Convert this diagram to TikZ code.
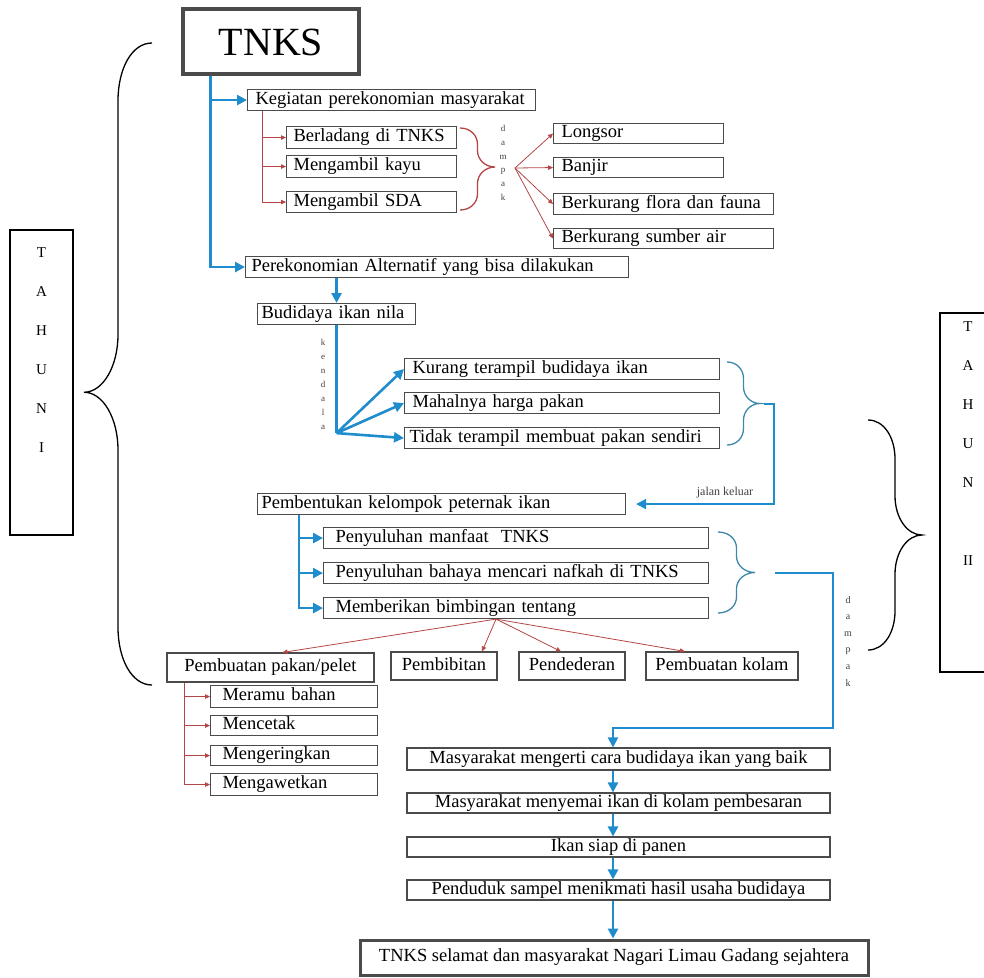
\documentclass[tikz,border=0pt]{standalone}
\usepackage{fontspec}
\setmainfont{Liberation Serif}
\usepackage{tikz}
\usetikzlibrary{arrows.meta,calc}

\definecolor{arrblue}{RGB}{30,140,205}
\definecolor{brcblue}{RGB}{60,135,170}
\definecolor{lnred}{RGB}{180,70,70}
\definecolor{boxgray}{RGB}{75,75,75}

\newcommand{\txt}{\fontsize{18.5}{21}\selectfont}
% curly brace in unit square: #1 = tip position, #2 = curl size
\newcommand{\brc}[2]{(0,0) .. controls (0.3,0) and (0.5,{0.45*#2}) .. (0.5,#2) -- (0.5,{#1-#2}) .. controls (0.5,{#1-0.45*#2}) and (0.72,#1) .. (1,#1) .. controls (0.72,#1) and (0.5,{#1+0.45*#2}) .. (0.5,{#1+#2}) -- (0.5,{1-#2}) .. controls (0.5,{1-0.45*#2}) and (0.3,1) .. (0,1)}

\begin{document}
\begin{tikzpicture}[x=1pt, y=-1pt,
    box/.style={draw=boxgray, line width=1.1pt, inner ysep=0pt, minimum height=21pt,
                text height=13pt, text depth=4.3pt, font=\txt},
    lbox/.style={box, anchor=north west, align=left, inner xsep=8pt},
    cbox/.style={box, align=center, inner xsep=2pt},
    barr/.style={arrblue, line width=2.6pt, -{Triangle[length=10pt,width=10pt]}},
    bline/.style={arrblue, line width=2.6pt},
    rarr/.style={lnred, line width=0.8pt, -{Triangle[length=5pt,width=4.5pt]}},
    curlyln/.style={line width=1.3pt},
    vlet/.style={anchor=north, align=center, inner sep=0pt, text=black!75},
    tletter/.style={anchor=north, align=center, inner sep=0pt, font=\fontsize{15}{39}\selectfont}]
                \useasboundingbox (0,0) rectangle (984,977);
                % top
                \node[box, line width=3.5pt, minimum width=176pt, minimum height=65pt, text height=28pt, text depth=0pt,
                      font=\fontsize{40}{42}\selectfont] (tnks) at (271,41.5) {TNKS};
                \node[lbox, text width=272pt] (keg) at (247,89) {Kegiatan perekonomian masyarakat};
                \node[lbox, inner xsep=7pt, text width=156pt, minimum height=22pt] (ladang) at (286,126) {Berladang di TNKS};
                \node[lbox, inner xsep=7pt, text width=156pt, minimum height=22pt] (kayu) at (286,155) {Mengambil kayu};
                \node[lbox, inner xsep=7pt, text width=156pt] (sda) at (286,191) {Mengambil SDA};
                \node[lbox, text width=154pt, minimum height=20pt] (longsor) at (553,123) {Longsor};
                \node[lbox, text width=154pt, minimum height=20pt] (banjir) at (553,157) {Banjir};
                \node[lbox, text width=204pt] (flora) at (553,193) {Berkurang flora dan fauna};
                \node[lbox, text width=204pt, minimum height=20pt] (sumber) at (553,228) {Berkurang sumber air};
                \node[lbox, inner xsep=6pt, text width=371pt] (alt) at (245,256) {Perekonomian Alternatif yang bisa dilakukan};
                \coordinate (tk) at ($(tnks.south west)+(29,0)$);
                \draw[barr] (tk) |- (keg.west);
                \draw[barr] (tk) |- (alt.west);
                \coordinate (rk) at ($(keg.south west)+(15,0)$);
                \draw[rarr] (rk) |- (ladang.west);
                \draw[rarr] (rk) |- (kayu.west);
                \draw[rarr] (rk) |- (sda.west);
                \draw[lnred, curlyln, shift={(460,128)}, xscale=35, yscale=82] \brc{0.476}{0.2};
                \node[vlet, font=\fontsize{9}{13.8}\selectfont] (dpk1) at (503,125) {d\\a\\m\\p\\a\\k};
                \coordinate (f1) at (515,168);
                \draw[rarr] (f1) -- (longsor.west);
                \draw[rarr] (f1) -- (banjir.west);
                \draw[rarr] (f1) -- (flora.west);
                \draw[rarr] (f1) -- (sumber.west);
                % budidaya
                \node[lbox, inner xsep=4pt, text width=150pt] (budi) at (257,303) {Budidaya ikan nila};
                \draw[barr] (alt.south -| budi.north) -- (budi.north);
                \node[lbox, text width=299pt] (kurang) at (404,358) {Kurang terampil budidaya ikan};
                \node[lbox, text width=299pt] (mahal) at (404,392) {Mahalnya harga pakan};
                \node[lbox, inner xsep=5pt, text width=305pt] (tidak) at (404,427) {Tidak terampil membuat pakan sendiri};
                \coordinate (kd) at ($(budi.south)+(0,108)$);
                \draw[bline] (budi.south) -- (kd);
                \draw[barr] (kd) -- (kurang.west);
                \draw[barr] (kd) -- (mahal.west);
                \draw[barr] (kd) -- (tidak.west);
                \node[vlet, font=\fontsize{9}{14}\selectfont] (kdl) at (323,339) {k\\e\\n\\d\\a\\l\\a};
                \draw[brcblue, curlyln, shift={(727,362)}, xscale=33, yscale=83] \brc{0.5}{0.2};
                % kelompok
                \node[lbox, inner xsep=4pt, text width=360pt] (pbk) at (257,493) {Pembentukan kelompok peternak ikan};
                \coordinate (jk) at (764,404);
                \draw[barr, line width=2pt] (jk) -- ++(10,0) |- ([xshift=10pt]pbk.east);
                \node[font=\fontsize{12}{14}\selectfont, text=black!75] (jkl) at (725,493) {jalan keluar};
                \node[lbox, inner xsep=12pt, text width=361pt] (pm1) at (323,527) {Penyuluhan manfaat\ \ TNKS};
                \node[lbox, inner xsep=12pt, text width=361pt] (pm2) at (323,562) {Penyuluhan bahaya mencari nafkah di TNKS};
                \node[lbox, inner xsep=12pt, text width=361pt] (pm3) at (323,597) {Memberikan bimbingan tentang};
                \coordinate (pk) at ($(pbk.south west)+(42,0)$);
                \draw[barr] (pk) |- (pm1.west);
                \draw[barr] (pk) |- (pm2.west);
                \draw[barr] (pk) |- (pm3.west);
                \draw[brcblue, curlyln, shift={(718,532)}, xscale=37, yscale=81] \brc{0.5}{0.2};
                % bimbingan
                \node[cbox, minimum width=207pt, minimum height=29pt] (pakan) at (270.5,667.5) {Pembuatan pakan/pelet};
                \node[cbox, minimum width=106pt, minimum height=28pt] (bibit) at (444,666) {Pembibitan};
                \node[cbox, minimum width=106pt, minimum height=28pt] (deder) at (572,666) {Pendederan};
                \node[cbox, minimum width=152pt, minimum height=28pt] (kolam) at (722,666) {Pembuatan kolam};
                \coordinate (f2) at ($(pm3.south)+(-20,0)$);
                \draw[rarr] (f2) -- ($(pakan.north)+(12,0)$);
                \draw[rarr] (f2) -- ($(bibit.north)+(38,0)$);
                \draw[rarr] (f2) -- ($(deder.north)+(-11,0)$);
                \draw[rarr] (f2) -- ($(kolam.north)+(-37,0)$);
                \node[lbox, inner xsep=12pt, text width=143pt, minimum height=22pt] (meramu) at (210,685) {Meramu bahan};
                \node[lbox, inner xsep=12pt, text width=143pt, minimum height=20pt] (cetak) at (210,715) {Mencetak};
                \node[lbox, inner xsep=12pt, text width=143pt, minimum height=20pt] (kering) at (210,745) {Mengeringkan};
                \node[lbox, inner xsep=12pt, text width=143pt, minimum height=22pt] (awet) at (210,773) {Mengawetkan};
                \coordinate (pp) at ($(pakan.south west)+(18,0)$);
                \draw[rarr] (pp) |- (meramu.west);
                \draw[rarr] (pp) |- (cetak.west);
                \draw[rarr] (pp) |- (kering.west);
                \draw[rarr] (pp) |- (awet.west);
                % hasil
                \node[cbox, minimum width=423pt, minimum height=22pt] (ms1) at (618.5,759) {Masyarakat mengerti cara budidaya ikan yang baik};
                \node[cbox, minimum width=423pt, minimum height=20pt] (ms2) at (618.5,803) {Masyarakat menyemai ikan di kolam pembesaran};
                \node[cbox, minimum width=423pt, minimum height=20pt] (ms3) at (618.5,847) {Ikan siap di panen};
                \node[cbox, minimum width=423pt, minimum height=20pt] (ms4) at (618.5,890) {Penduduk sampel menikmati hasil usaha budidaya};
                \node[cbox, line width=3pt, minimum width=508pt, minimum height=35pt] (akhir) at (614,957.5) {TNKS selamat dan masyarakat Nagari Limau Gadang sejahtera};
                \coordinate (col) at (613,0);
                \coordinate (dp) at (775,573);
                \coordinate (dk) at (833,728);
                \draw[barr, line width=2pt] (dp) -| (dk) -| (ms1.north -| col);
                \node[vlet, font=\fontsize{10}{16.6}\selectfont] (dpk2) at (848,596) {d\\a\\m\\p\\a\\k};
                \draw[barr] (ms1.south -| col) -- (ms2.north -| col);
                \draw[barr] (ms2.south -| col) -- (ms3.north -| col);
                \draw[barr] (ms3.south -| col) -- (ms4.north -| col);
                \draw[barr] (ms4.south -| col) -- (akhir.north -| col);
                % tahun
                \node[draw, line width=1.2pt, minimum width=63pt, minimum height=305pt, inner sep=0pt] (th1) at (41.5,382.5) {};
                \node[tletter] (th1t) at (41.5,247) {T\\A\\H\\U\\N\\I};
                \draw[curlyln, shift={(152,43)}, xscale=-68, yscale=642] \brc{0.544}{0.09};
                \node[draw, line width=1.2pt, minimum width=70pt, minimum height=359pt, inner sep=0pt] (th2) at (975,492.5) {};
                \node[tletter] (th2t) at (968,321) {T\\A\\H\\U\\N\\[39pt]II};
                \draw[curlyln, shift={(868,420)}, xscale=54, yscale=230] \brc{0.5}{0.17};
            \end{tikzpicture}
\end{document}
